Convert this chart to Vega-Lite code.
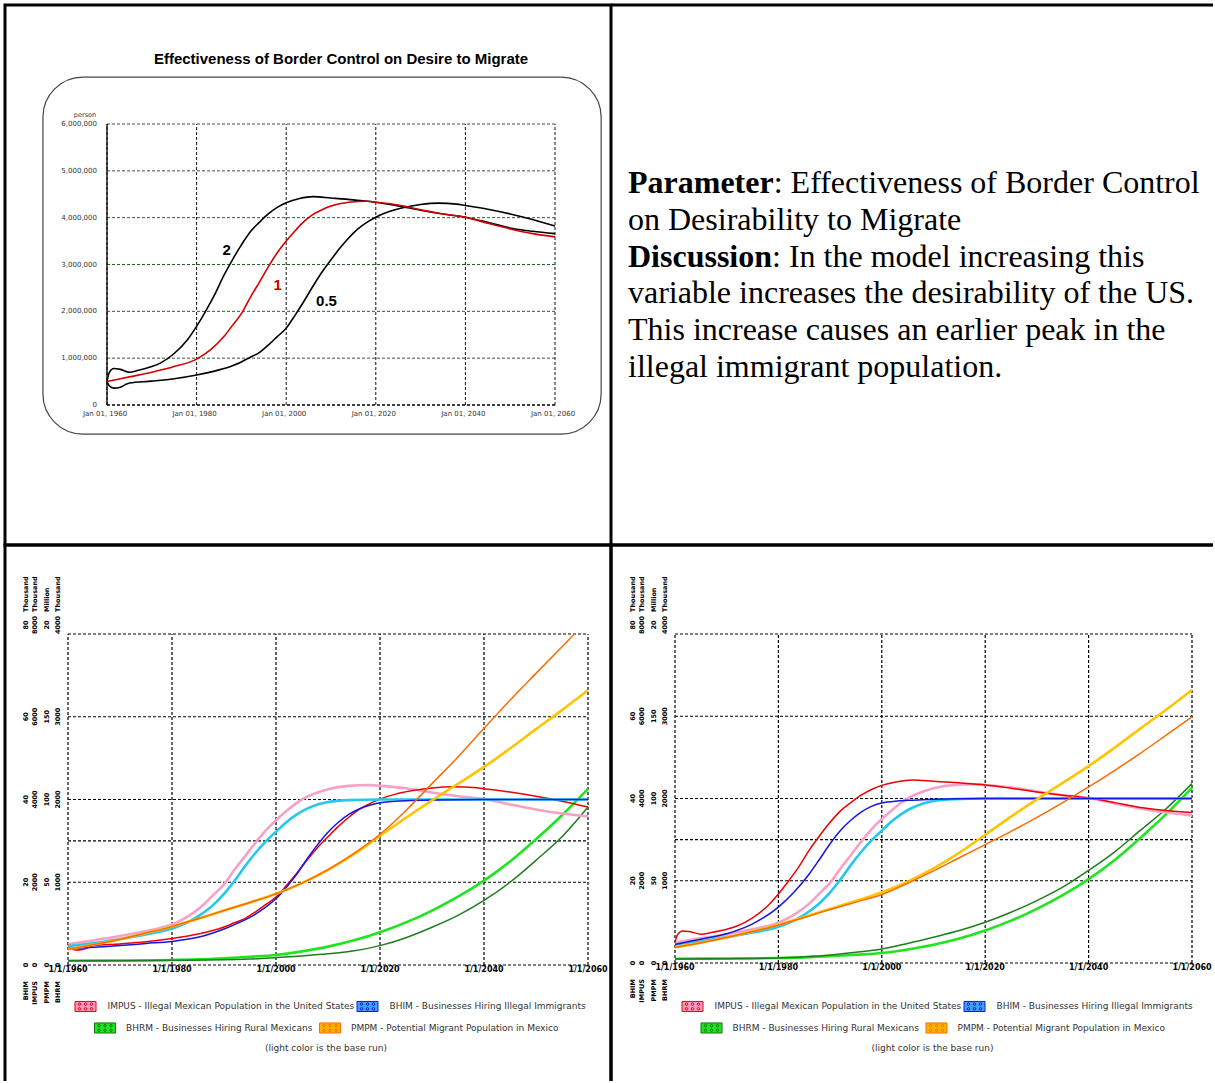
{
  "$schema": "https://vega.github.io/schema/vega-lite/v6.json",
  "background": "white",
  "padding": {"left": 3, "top": 3, "right": 0, "bottom": 0},
  "bounds": "flush",
  "spacing": 0,
  "columns": 2,
  "datasets": {
    "impus": [
      {"r":"1","year":1960,"v":500000},{"r":"1","year":1965,"v":600000},{"r":"1","year":1970,"v":700000},{"r":"1","year":1975,"v":820000},{"r":"1","year":1980,"v":980000},{"r":"1","year":1983,"v":1170000},{"r":"1","year":1986,"v":1450000},{"r":"1","year":1988,"v":1700000},{"r":"1","year":1990,"v":1950000},{"r":"1","year":1992,"v":2300000},{"r":"1","year":1994,"v":2620000},{"r":"1","year":1996,"v":2950000},{"r":"1","year":1998,"v":3250000},{"r":"1","year":2000,"v":3500000},{"r":"1","year":2002,"v":3720000},{"r":"1","year":2004,"v":3920000},{"r":"1","year":2006,"v":4070000},{"r":"1","year":2008,"v":4170000},{"r":"1","year":2010,"v":4250000},{"r":"1","year":2014,"v":4330000},{"r":"1","year":2018,"v":4350000},{"r":"1","year":2020,"v":4330000},{"r":"1","year":2025,"v":4270000},{"r":"1","year":2030,"v":4170000},{"r":"1","year":2035,"v":4080000},{"r":"1","year":2040,"v":4010000},{"r":"1","year":2045,"v":3880000},{"r":"1","year":2050,"v":3760000},{"r":"1","year":2055,"v":3660000},{"r":"1","year":2060,"v":3590000},
      {"r":"0.5","year":1960,"v":500000},{"r":"0.5","year":1960.5,"v":410000},{"r":"0.5","year":1961.5,"v":360000},{"r":"0.5","year":1963,"v":380000},{"r":"0.5","year":1964,"v":430000},{"r":"0.5","year":1965,"v":470000},{"r":"0.5","year":1970,"v":510000},{"r":"0.5","year":1975,"v":560000},{"r":"0.5","year":1980,"v":640000},{"r":"0.5","year":1985,"v":750000},{"r":"0.5","year":1988,"v":840000},{"r":"0.5","year":1990,"v":920000},{"r":"0.5","year":1992,"v":1020000},{"r":"0.5","year":1994,"v":1120000},{"r":"0.5","year":1996,"v":1280000},{"r":"0.5","year":1998,"v":1460000},{"r":"0.5","year":2000,"v":1640000},{"r":"0.5","year":2002,"v":1920000},{"r":"0.5","year":2004,"v":2220000},{"r":"0.5","year":2006,"v":2540000},{"r":"0.5","year":2008,"v":2840000},{"r":"0.5","year":2010,"v":3100000},{"r":"0.5","year":2012,"v":3350000},{"r":"0.5","year":2014,"v":3570000},{"r":"0.5","year":2016,"v":3760000},{"r":"0.5","year":2018,"v":3900000},{"r":"0.5","year":2020,"v":4010000},{"r":"0.5","year":2023,"v":4130000},{"r":"0.5","year":2026,"v":4210000},{"r":"0.5","year":2030,"v":4280000},{"r":"0.5","year":2034,"v":4310000},{"r":"0.5","year":2038,"v":4290000},{"r":"0.5","year":2040,"v":4260000},{"r":"0.5","year":2045,"v":4180000},{"r":"0.5","year":2050,"v":4080000},{"r":"0.5","year":2055,"v":3960000},{"r":"0.5","year":2060,"v":3820000},
      {"r":"2","year":1960,"v":500000},{"r":"2","year":1960.5,"v":690000},{"r":"2","year":1961.5,"v":780000},{"r":"2","year":1963,"v":760000},{"r":"2","year":1965,"v":700000},{"r":"2","year":1967,"v":740000},{"r":"2","year":1970,"v":820000},{"r":"2","year":1972,"v":900000},{"r":"2","year":1975,"v":1100000},{"r":"2","year":1978,"v":1400000},{"r":"2","year":1980,"v":1680000},{"r":"2","year":1982,"v":2000000},{"r":"2","year":1984,"v":2350000},{"r":"2","year":1986,"v":2750000},{"r":"2","year":1988,"v":3100000},{"r":"2","year":1990,"v":3420000},{"r":"2","year":1992,"v":3700000},{"r":"2","year":1994,"v":3900000},{"r":"2","year":1996,"v":4080000},{"r":"2","year":1998,"v":4220000},{"r":"2","year":2000,"v":4320000},{"r":"2","year":2003,"v":4410000},{"r":"2","year":2006,"v":4450000},{"r":"2","year":2010,"v":4420000},{"r":"2","year":2015,"v":4380000},{"r":"2","year":2020,"v":4330000},{"r":"2","year":2025,"v":4250000},{"r":"2","year":2030,"v":4160000},{"r":"2","year":2035,"v":4080000},{"r":"2","year":2040,"v":4010000},{"r":"2","year":2045,"v":3900000},{"r":"2","year":2050,"v":3780000},{"r":"2","year":2055,"v":3710000},{"r":"2","year":2060,"v":3660000}
    ],
    "bhim": [
      {"r":"1","year":1960,"v":4500},{"r":"1","year":1965,"v":5300},{"r":"1","year":1970,"v":6300},{"r":"1","year":1975,"v":7400},{"r":"1","year":1980,"v":8800},{"r":"1","year":1983,"v":10300},{"r":"1","year":1986,"v":12600},{"r":"1","year":1988,"v":14600},{"r":"1","year":1990,"v":17200},{"r":"1","year":1992,"v":20300},{"r":"1","year":1994,"v":23800},{"r":"1","year":1996,"v":27000},{"r":"1","year":1998,"v":29800},{"r":"1","year":2000,"v":32200},{"r":"1","year":2002,"v":34500},{"r":"1","year":2004,"v":36400},{"r":"1","year":2006,"v":37800},{"r":"1","year":2008,"v":38800},{"r":"1","year":2010,"v":39400},{"r":"1","year":2014,"v":39850},{"r":"1","year":2020,"v":40000},{"r":"1","year":2040,"v":40000},{"r":"1","year":2060,"v":40000},
      {"r":"0.5","year":1960,"v":3900},{"r":"0.5","year":1965,"v":4300},{"r":"0.5","year":1970,"v":4700},{"r":"0.5","year":1975,"v":5200},{"r":"0.5","year":1980,"v":5700},{"r":"0.5","year":1985,"v":6700},{"r":"0.5","year":1990,"v":8700},{"r":"0.5","year":1993,"v":10300},{"r":"0.5","year":1995,"v":11500},{"r":"0.5","year":1998,"v":14000},{"r":"0.5","year":2000,"v":16000},{"r":"0.5","year":2002,"v":18800},{"r":"0.5","year":2004,"v":22000},{"r":"0.5","year":2006,"v":25700},{"r":"0.5","year":2008,"v":29100},{"r":"0.5","year":2010,"v":32100},{"r":"0.5","year":2012,"v":34500},{"r":"0.5","year":2014,"v":36400},{"r":"0.5","year":2016,"v":37700},{"r":"0.5","year":2018,"v":38600},{"r":"0.5","year":2020,"v":39200},{"r":"0.5","year":2025,"v":39700},{"r":"0.5","year":2030,"v":39900},{"r":"0.5","year":2040,"v":40000},{"r":"0.5","year":2060,"v":40000},
      {"r":"2","year":1960,"v":4500},{"r":"2","year":1965,"v":5800},{"r":"2","year":1970,"v":7100},{"r":"2","year":1975,"v":9500},{"r":"2","year":1980,"v":13600},{"r":"2","year":1983,"v":17200},{"r":"2","year":1986,"v":21700},{"r":"2","year":1988,"v":25300},{"r":"2","year":1990,"v":29000},{"r":"2","year":1992,"v":32200},{"r":"2","year":1994,"v":34700},{"r":"2","year":1996,"v":36700},{"r":"2","year":1998,"v":38100},{"r":"2","year":2000,"v":38900},{"r":"2","year":2003,"v":39400},{"r":"2","year":2006,"v":39600},{"r":"2","year":2010,"v":39800},{"r":"2","year":2020,"v":40000},{"r":"2","year":2060,"v":40000}
    ],
    "bhrm": [
      {"r":"1","year":1960,"v":52000},{"r":"1","year":1970,"v":54000},{"r":"1","year":1980,"v":60000},{"r":"1","year":1985,"v":68000},{"r":"1","year":1990,"v":82000},{"r":"1","year":1995,"v":100000},{"r":"1","year":2000,"v":121000},{"r":"1","year":2005,"v":165000},{"r":"1","year":2010,"v":222000},{"r":"1","year":2015,"v":298000},{"r":"1","year":2020,"v":396000},{"r":"1","year":2025,"v":515000},{"r":"1","year":2030,"v":658000},{"r":"1","year":2035,"v":825000},{"r":"1","year":2040,"v":1020000},{"r":"1","year":2045,"v":1250000},{"r":"1","year":2050,"v":1520000},{"r":"1","year":2055,"v":1810000},{"r":"1","year":2060,"v":2130000},
      {"r":"0.5","year":1960,"v":50000},{"r":"0.5","year":1970,"v":52000},{"r":"0.5","year":1980,"v":56000},{"r":"0.5","year":1990,"v":62000},{"r":"0.5","year":1995,"v":72000},{"r":"0.5","year":2000,"v":90000},{"r":"0.5","year":2005,"v":110000},{"r":"0.5","year":2010,"v":135000},{"r":"0.5","year":2015,"v":172000},{"r":"0.5","year":2020,"v":234000},{"r":"0.5","year":2025,"v":330000},{"r":"0.5","year":2030,"v":456000},{"r":"0.5","year":2035,"v":600000},{"r":"0.5","year":2040,"v":780000},{"r":"0.5","year":2045,"v":1000000},{"r":"0.5","year":2050,"v":1265000},{"r":"0.5","year":2055,"v":1550000},{"r":"0.5","year":2060,"v":1910000},
      {"r":"2","year":1960,"v":49000},{"r":"2","year":1970,"v":53000},{"r":"2","year":1980,"v":61000},{"r":"2","year":1985,"v":75000},{"r":"2","year":1990,"v":97000},{"r":"2","year":1995,"v":130000},{"r":"2","year":2000,"v":171000},{"r":"2","year":2005,"v":238000},{"r":"2","year":2010,"v":313000},{"r":"2","year":2015,"v":394000},{"r":"2","year":2020,"v":495000},{"r":"2","year":2025,"v":617000},{"r":"2","year":2030,"v":759000},{"r":"2","year":2035,"v":922000},{"r":"2","year":2040,"v":1125000},{"r":"2","year":2045,"v":1348000},{"r":"2","year":2050,"v":1612000},{"r":"2","year":2055,"v":1876000},{"r":"2","year":2060,"v":2181000}
    ],
    "pmpm": [
      {"r":"1","year":1960,"v":9500000},{"r":"1","year":1965,"v":12400000},{"r":"1","year":1970,"v":15600000},{"r":"1","year":1975,"v":19300000},{"r":"1","year":1980,"v":23200000},{"r":"1","year":1985,"v":28000000},{"r":"1","year":1990,"v":32900000},{"r":"1","year":1995,"v":37800000},{"r":"1","year":2000,"v":43000000},{"r":"1","year":2005,"v":49500000},{"r":"1","year":2010,"v":57500000},{"r":"1","year":2015,"v":67000000},{"r":"1","year":2020,"v":78000000},{"r":"1","year":2025,"v":89000000},{"r":"1","year":2030,"v":99500000},{"r":"1","year":2035,"v":109500000},{"r":"1","year":2040,"v":119700000},{"r":"1","year":2045,"v":130800000},{"r":"1","year":2050,"v":142500000},{"r":"1","year":2055,"v":154000000},{"r":"1","year":2060,"v":166000000},
      {"r":"0.5","year":1960,"v":9500000},{"r":"0.5","year":1965,"v":12400000},{"r":"0.5","year":1970,"v":15600000},{"r":"0.5","year":1975,"v":19300000},{"r":"0.5","year":1980,"v":23200000},{"r":"0.5","year":1985,"v":28000000},{"r":"0.5","year":1990,"v":32900000},{"r":"0.5","year":1995,"v":37800000},{"r":"0.5","year":2000,"v":43000000},{"r":"0.5","year":2005,"v":49500000},{"r":"0.5","year":2010,"v":57600000},{"r":"0.5","year":2015,"v":67500000},{"r":"0.5","year":2020,"v":79000000},{"r":"0.5","year":2025,"v":93400000},{"r":"0.5","year":2030,"v":109600000},{"r":"0.5","year":2035,"v":125700000},{"r":"0.5","year":2040,"v":143000000},{"r":"0.5","year":2045,"v":160000000},{"r":"0.5","year":2050,"v":176200000},{"r":"0.5","year":2055,"v":192300000},{"r":"0.5","year":2057.4,"v":200000000},
      {"r":"2","year":1960,"v":9500000},{"r":"2","year":1965,"v":12300000},{"r":"2","year":1970,"v":15500000},{"r":"2","year":1975,"v":19100000},{"r":"2","year":1980,"v":23000000},{"r":"2","year":1985,"v":27700000},{"r":"2","year":1990,"v":32500000},{"r":"2","year":1995,"v":37000000},{"r":"2","year":2000,"v":41600000},{"r":"2","year":2005,"v":48500000},{"r":"2","year":2010,"v":56000000},{"r":"2","year":2015,"v":64000000},{"r":"2","year":2020,"v":72000000},{"r":"2","year":2025,"v":80000000},{"r":"2","year":2030,"v":88500000},{"r":"2","year":2035,"v":97500000},{"r":"2","year":2040,"v":107000000},{"r":"2","year":2045,"v":117000000},{"r":"2","year":2050,"v":127500000},{"r":"2","year":2055,"v":138500000},{"r":"2","year":2060,"v":149600000}
    ],
    "years": [
      {"year":1960,"v":0,"md":"1/1/1960","long":"Jan 01, 1960"},{"year":1980,"v":0,"md":"1/1/1980","long":"Jan 01, 1980"},{"year":2000,"v":0,"md":"1/1/2000","long":"Jan 01, 2000"},{"year":2020,"v":0,"md":"1/1/2020","long":"Jan 01, 2020"},{"year":2040,"v":0,"md":"1/1/2040","long":"Jan 01, 2040"},{"year":2060,"v":0,"md":"1/1/2060","long":"Jan 01, 2060"}
    ],
    "tlgrid": [
      {"dir":"v","year":1960,"year2":1960,"v":0,"v2":6000000},{"dir":"v","year":1980,"year2":1980,"v":0,"v2":6000000},{"dir":"v","year":2000,"year2":2000,"v":0,"v2":6000000},{"dir":"v","year":2020,"year2":2020,"v":0,"v2":6000000},{"dir":"v","year":2040,"year2":2040,"v":0,"v2":6000000},{"dir":"v","year":2060,"year2":2060,"v":0,"v2":6000000},
      {"dir":"h","year":1960,"year2":2060,"v":1000000,"v2":1000000},{"dir":"h","year":1960,"year2":2060,"v":2000000,"v2":2000000},{"dir":"h","year":1960,"year2":2060,"v":3000000,"v2":3000000},{"dir":"h","year":1960,"year2":2060,"v":4000000,"v2":4000000},{"dir":"h","year":1960,"year2":2060,"v":5000000,"v2":5000000},{"dir":"h","year":1960,"year2":2060,"v":6000000,"v2":6000000},
      {"dir":"axisY","year":1960,"year2":1960,"v":0,"v2":6000000},{"dir":"axisX","year":1960,"year2":2060,"v":0,"v2":0}
    ],
    "tlticks": [
      {"year":1960,"v":0},{"year":1960,"v":1000000},{"year":1960,"v":2000000},{"year":1960,"v":3000000},{"year":1960,"v":4000000},{"year":1960,"v":5000000},{"year":1960,"v":6000000}
    ],
    "bgrid": [
      {"year":1960,"year2":1960,"v":0,"v2":4000000},{"year":1980,"year2":1980,"v":0,"v2":4000000},{"year":2000,"year2":2000,"v":0,"v2":4000000},{"year":2020,"year2":2020,"v":0,"v2":4000000},{"year":2040,"year2":2040,"v":0,"v2":4000000},{"year":2060,"year2":2060,"v":0,"v2":4000000},
      {"year":1960,"year2":2060,"v":0,"v2":0},{"year":1960,"year2":2060,"v":1000000,"v2":1000000},{"year":1960,"year2":2060,"v":1500000,"v2":1500000},{"year":1960,"year2":2060,"v":2000000,"v2":2000000},{"year":1960,"year2":2060,"v":3000000,"v2":3000000},{"year":1960,"year2":2060,"v":4000000,"v2":4000000}
    ],
    "ylabels": [
      {"s":"BHIM","kind":"tick","year":1960,"v":0,"label":"0"},{"s":"BHIM","kind":"tick","year":1960,"v":20000,"label":"20"},{"s":"BHIM","kind":"tick","year":1960,"v":40000,"label":"40"},{"s":"BHIM","kind":"tick","year":1960,"v":60000,"label":"60"},{"s":"BHIM","kind":"top","year":1960,"v":80000,"label":"80"},{"s":"BHIM","kind":"unit","year":1960,"v":80000,"label":"Thousand"},{"s":"BHIM","kind":"name","year":1960,"v":0,"label":"BHIM"},
      {"s":"IMPUS","kind":"tick","year":1960,"v":0,"label":"0"},{"s":"IMPUS","kind":"tick","year":1960,"v":2000000,"label":"2000"},{"s":"IMPUS","kind":"tick","year":1960,"v":4000000,"label":"4000"},{"s":"IMPUS","kind":"tick","year":1960,"v":6000000,"label":"6000"},{"s":"IMPUS","kind":"top","year":1960,"v":8000000,"label":"8000"},{"s":"IMPUS","kind":"unit","year":1960,"v":8000000,"label":"Thousand"},{"s":"IMPUS","kind":"name","year":1960,"v":0,"label":"IMPUS"},
      {"s":"PMPM","kind":"tick","year":1960,"v":0,"label":"0"},{"s":"PMPM","kind":"tick","year":1960,"v":50000000,"label":"50"},{"s":"PMPM","kind":"tick","year":1960,"v":100000000,"label":"100"},{"s":"PMPM","kind":"tick","year":1960,"v":150000000,"label":"150"},{"s":"PMPM","kind":"top","year":1960,"v":200000000,"label":"20"},{"s":"PMPM","kind":"unit","year":1960,"v":200000000,"label":"Million"},{"s":"PMPM","kind":"name","year":1960,"v":0,"label":"PMPM"},
      {"s":"BHRM","kind":"tick","year":1960,"v":0,"label":"0"},{"s":"BHRM","kind":"tick","year":1960,"v":1000000,"label":"1000"},{"s":"BHRM","kind":"tick","year":1960,"v":2000000,"label":"2000"},{"s":"BHRM","kind":"tick","year":1960,"v":3000000,"label":"3000"},{"s":"BHRM","kind":"top","year":1960,"v":4000000,"label":"4000"},{"s":"BHRM","kind":"unit","year":1960,"v":4000000,"label":"Thousand"},{"s":"BHRM","kind":"name","year":1960,"v":0,"label":"BHRM"}
    ],
    "notes": [
      {"line":1,"part":"head","t":"Parameter"},
      {"line":1,"part":"rest","t":": Effectiveness of Border Control"},
      {"line":2,"part":"plain","t":"on Desirability to Migrate"},
      {"line":3,"part":"head","t":"Discussion"},
      {"line":3,"part":"rest","t":": In the model increasing this"},
      {"line":4,"part":"plain","t":"variable increases the desirability of the US."},
      {"line":5,"part":"plain","t":"This increase causes an earlier peak in the"},
      {"line":6,"part":"plain","t":"illegal immigrant population."}
    ],
    "legendTop": [{"entry":"IMPUS - Illegal Mexican Population in the United States"},{"entry":"BHIM - Businesses Hiring Illegal Immigrants"}],
    "legendBottom": [{"entry":"BHRM - Businesses Hiring Rural Mexicans"},{"entry":"PMPM - Potential Migrant Population in Mexico"}]
  },
  "concat": [
    {
      "width": 606,
      "height": 540,
      "view": {"stroke": "#000", "strokeWidth": 3},
      "title": {"text": "Effectiveness of Border Control on Desire to Migrate", "font": "Liberation Sans", "fontSize": 15, "fontWeight": "bold", "color": "#000", "anchor": "middle", "frame": "group", "dx": 33, "offset": -69, "baseline": "middle"},
      "layer": [
        {
          "data": {"values": [{"year": 1945.7, "year2": 2070.3, "v": -620000, "v2": 7000000}]},
          "mark": {"type": "rect", "cornerRadius": 40, "fill": "transparent", "stroke": "#444", "strokeWidth": 1.2},
          "encoding": {
            "x": {"field": "year", "type": "quantitative", "scale": {"domain": [1960, 2060], "range": [102, 550], "nice": false, "zero": false}, "axis": null},
            "x2": {"field": "year2"},
            "y": {"field": "v", "type": "quantitative", "scale": {"domain": [0, 6000000], "range": [400, 119], "nice": false, "zero": false}, "axis": null},
            "y2": {"field": "v2"}
          }
        },
        {
          "data": {"name": "tlgrid"},
          "transform": [{"filter": "datum.dir === 'v'"}],
          "mark": {"type": "rule", "color": "#111", "strokeWidth": 1, "strokeDash": [3, 2]},
          "encoding": {
            "x": {"field": "year", "type": "quantitative", "scale": {"domain": [1960, 2060], "range": [102, 550], "nice": false, "zero": false}, "axis": null},
            "x2": {"field": "year2"},
            "y": {"field": "v", "type": "quantitative", "scale": {"domain": [0, 6000000], "range": [400, 119], "nice": false, "zero": false}, "axis": null},
            "y2": {"field": "v2"}
          }
        },
        {
          "data": {"name": "tlgrid"},
          "transform": [{"filter": "datum.dir === 'h'"}],
          "mark": {"type": "rule", "color": "#2E5E2E", "strokeWidth": 1, "strokeDash": [3, 2]},
          "encoding": {
            "x": {"field": "year", "type": "quantitative", "scale": {"domain": [1960, 2060], "range": [102, 550], "nice": false, "zero": false}, "axis": null},
            "x2": {"field": "year2"},
            "y": {"field": "v", "type": "quantitative", "scale": {"domain": [0, 6000000], "range": [400, 119], "nice": false, "zero": false}, "axis": null},
            "y2": {"field": "v2"}
          }
        },
        {
          "data": {"name": "tlgrid"},
          "transform": [{"filter": "datum.dir === 'axisY'"}],
          "mark": {"type": "rule", "color": "#000", "strokeWidth": 1.3},
          "encoding": {
            "x": {"field": "year", "type": "quantitative", "scale": {"domain": [1960, 2060], "range": [102, 550], "nice": false, "zero": false}, "axis": null},
            "x2": {"field": "year2"},
            "y": {"field": "v", "type": "quantitative", "scale": {"domain": [0, 6000000], "range": [400, 119], "nice": false, "zero": false}, "axis": null},
            "y2": {"field": "v2"}
          }
        },
        {
          "data": {"name": "tlgrid"},
          "transform": [{"filter": "datum.dir === 'axisX'"}],
          "mark": {"type": "rule", "color": "#000", "strokeWidth": 1.6, "strokeDash": [3, 2]},
          "encoding": {
            "x": {"field": "year", "type": "quantitative", "scale": {"domain": [1960, 2060], "range": [102, 550], "nice": false, "zero": false}, "axis": null},
            "x2": {"field": "year2"},
            "y": {"field": "v", "type": "quantitative", "scale": {"domain": [0, 6000000], "range": [400, 119], "nice": false, "zero": false}, "axis": null},
            "y2": {"field": "v2"}
          }
        },
        {
          "data": {"name": "tlticks"},
          "mark": {"type": "text", "align": "right", "baseline": "middle", "dx": -10, "font": "DejaVu Sans", "fontSize": 7, "color": "#333"},
          "encoding": {
            "x": {"field": "year", "type": "quantitative", "scale": {"domain": [1960, 2060], "range": [102, 550], "nice": false, "zero": false}, "axis": null},
            "y": {"field": "v", "type": "quantitative", "scale": {"domain": [0, 6000000], "range": [400, 119], "nice": false, "zero": false}, "axis": null},
            "text": {"field": "v", "type": "quantitative", "format": ",d"}
          }
        },
        {
          "data": {"name": "years"},
          "mark": {"type": "text", "align": "center", "baseline": "top", "dx": -2, "dy": 5, "font": "DejaVu Sans", "fontSize": 7, "color": "#333"},
          "encoding": {
            "x": {"field": "year", "type": "quantitative", "scale": {"domain": [1960, 2060], "range": [102, 550], "nice": false, "zero": false}, "axis": null},
            "y": {"field": "v", "type": "quantitative", "scale": {"domain": [0, 6000000], "range": [400, 119], "nice": false, "zero": false}, "axis": null},
            "text": {"field": "long"}
          }
        },
        {
          "data": {"values": [{"year": 1960, "v": 6000000, "label": "person"}]},
          "mark": {"type": "text", "align": "center", "baseline": "middle", "dx": -22, "dy": -9, "font": "DejaVu Sans", "fontSize": 6.5, "color": "#333"},
          "encoding": {
            "x": {"field": "year", "type": "quantitative", "scale": {"domain": [1960, 2060], "range": [102, 550], "nice": false, "zero": false}, "axis": null},
            "y": {"field": "v", "type": "quantitative", "scale": {"domain": [0, 6000000], "range": [400, 119], "nice": false, "zero": false}, "axis": null},
            "text": {"field": "label"}
          }
        },
        {
          "data": {"name": "impus"},
          "transform": [{"filter": "datum.r !== '1'"}],
          "mark": {"type": "line", "color": "#000", "strokeWidth": 1.6, "interpolate": "monotone"},
          "encoding": {
            "x": {"field": "year", "type": "quantitative", "scale": {"domain": [1960, 2060], "range": [102, 550], "nice": false, "zero": false}, "axis": null},
            "y": {"field": "v", "type": "quantitative", "scale": {"domain": [0, 6000000], "range": [400, 119], "nice": false, "zero": false}, "axis": null},
            "detail": {"field": "r"}
          }
        },
        {
          "data": {"name": "impus"},
          "transform": [{"filter": "datum.r === '1'"}],
          "mark": {"type": "line", "color": "#D40000", "strokeWidth": 1.6, "interpolate": "monotone"},
          "encoding": {
            "x": {"field": "year", "type": "quantitative", "scale": {"domain": [1960, 2060], "range": [102, 550], "nice": false, "zero": false}, "axis": null},
            "y": {"field": "v", "type": "quantitative", "scale": {"domain": [0, 6000000], "range": [400, 119], "nice": false, "zero": false}, "axis": null}
          }
        },
        {
          "data": {"values": [{"r": "2", "year": 1986.7, "v": 3320000, "label": "2"}, {"r": "1", "year": 1998.1, "v": 2570000, "label": "1"}, {"r": "0.5", "year": 2009.0, "v": 2210000, "label": "0.5"}]},
          "mark": {"type": "text", "font": "Liberation Sans", "fontSize": 15, "fontWeight": "bold", "baseline": "middle", "align": "center"},
          "encoding": {
            "x": {"field": "year", "type": "quantitative", "scale": {"domain": [1960, 2060], "range": [102, 550], "nice": false, "zero": false}, "axis": null},
            "y": {"field": "v", "type": "quantitative", "scale": {"domain": [0, 6000000], "range": [400, 119], "nice": false, "zero": false}, "axis": null},
            "text": {"field": "label"},
            "color": {"field": "r", "type": "nominal", "scale": {"domain": ["0.5", "1", "2"], "range": ["#000", "#D40000", "#000"]}, "legend": null}
          }
        }
      ]
    },
    {
      "width": 602,
      "height": 540,
      "view": {"stroke": "#000", "strokeWidth": 3, "strokeDash": [602, 540]},
      "data": {"name": "notes"},
      "layer": [
        {"transform": [{"filter": "datum.part === 'head'"}], "mark": {"type": "text", "align": "left", "baseline": "middle", "font": "Liberation Serif", "fontSize": 32, "fontWeight": "bold", "color": "#000"},
          "encoding": {"x": {"datum": 0, "type": "quantitative", "scale": {"domain": [0, 1], "range": [17, 600]}, "axis": null}, "y": {"field": "line", "type": "quantitative", "scale": {"domain": [1, 6], "range": [178, 362], "nice": false, "zero": false}, "axis": null}, "text": {"field": "t"}}},
        {"transform": [{"filter": "datum.part === 'rest' && datum.line === 1"}], "mark": {"type": "text", "align": "left", "baseline": "middle", "dx": 145.7, "font": "Liberation Serif", "fontSize": 32, "color": "#000"},
          "encoding": {"x": {"datum": 0, "type": "quantitative", "scale": {"domain": [0, 1], "range": [17, 600]}, "axis": null}, "y": {"field": "line", "type": "quantitative", "scale": {"domain": [1, 6], "range": [178, 362], "nice": false, "zero": false}, "axis": null}, "text": {"field": "t"}}},
        {"transform": [{"filter": "datum.part === 'rest' && datum.line === 3"}], "mark": {"type": "text", "align": "left", "baseline": "middle", "dx": 144, "font": "Liberation Serif", "fontSize": 32, "color": "#000"},
          "encoding": {"x": {"datum": 0, "type": "quantitative", "scale": {"domain": [0, 1], "range": [17, 600]}, "axis": null}, "y": {"field": "line", "type": "quantitative", "scale": {"domain": [1, 6], "range": [178, 362], "nice": false, "zero": false}, "axis": null}, "text": {"field": "t"}}},
        {"transform": [{"filter": "datum.part === 'plain'"}], "mark": {"type": "text", "align": "left", "baseline": "middle", "font": "Liberation Serif", "fontSize": 32, "color": "#000"},
          "encoding": {"x": {"datum": 0, "type": "quantitative", "scale": {"domain": [0, 1], "range": [17, 600]}, "axis": null}, "y": {"field": "line", "type": "quantitative", "scale": {"domain": [1, 6], "range": [178, 362], "nice": false, "zero": false}, "axis": null}, "text": {"field": "t"}}}
      ]
    },
    {
      "width": 606,
      "height": 536,
      "view": {"stroke": "#000", "strokeWidth": 3, "strokeDash": [1142, 606, 537]},
      "layer": [
        {"data": {"name": "bgrid"}, "mark": {"type": "rule", "color": "#000", "strokeWidth": 1.2, "strokeDash": [3, 2]},
          "encoding": {"x": {"field": "year", "type": "quantitative", "scale": {"domain": [1960, 2060], "range": [63, 583], "nice": false, "zero": false}, "axis": null}, "x2": {"field": "year2"}, "y": {"field": "v", "type": "quantitative", "scale": {"domain": [0, 4000000], "range": [420, 89], "nice": false, "zero": false}, "axis": null}, "y2": {"field": "v2"}}},
        {"data": {"name": "years"}, "mark": {"type": "text", "align": "center", "baseline": "top", "dy": 1, "font": "DejaVu Sans", "fontSize": 8, "fontWeight": "bold", "color": "#000"},
          "encoding": {"x": {"field": "year", "type": "quantitative", "scale": {"domain": [1960, 2060], "range": [63, 583], "nice": false, "zero": false}, "axis": null}, "y": {"field": "v", "type": "quantitative", "scale": {"domain": [0, 4000000], "range": [420, 89], "nice": false, "zero": false}, "axis": null}, "text": {"field": "md"}}},
        {"data": {"name": "bhrm"}, "transform": [{"filter": "datum.r === '1'"}], "mark": {"type": "line", "color": "#1EE61E", "strokeWidth": 2.6, "interpolate": "monotone"},
          "encoding": {"x": {"field": "year", "type": "quantitative", "scale": {"domain": [1960, 2060], "range": [63, 583], "nice": false, "zero": false}, "axis": null}, "y": {"field": "v", "type": "quantitative", "scale": {"domain": [0, 4000000], "range": [420, 89], "nice": false, "zero": false}, "axis": null}}},
        {"data": {"name": "bhrm"}, "transform": [{"filter": "datum.r === '0.5'"}], "mark": {"type": "line", "color": "#1E7D1E", "strokeWidth": 1.5, "interpolate": "monotone"},
          "encoding": {"x": {"field": "year", "type": "quantitative", "scale": {"domain": [1960, 2060], "range": [63, 583], "nice": false, "zero": false}, "axis": null}, "y": {"field": "v", "type": "quantitative", "scale": {"domain": [0, 4000000], "range": [420, 89], "nice": false, "zero": false}, "axis": null}}},
        {"data": {"name": "impus"}, "transform": [{"filter": "datum.r === '1'"}], "mark": {"type": "line", "color": "#F8A0C8", "strokeWidth": 2.6, "interpolate": "monotone"},
          "encoding": {"x": {"field": "year", "type": "quantitative", "scale": {"domain": [1960, 2060], "range": [63, 583], "nice": false, "zero": false}, "axis": null}, "y": {"field": "v", "type": "quantitative", "scale": {"domain": [0, 8000000], "range": [420, 89], "nice": false, "zero": false}, "axis": null}}},
        {"data": {"name": "impus"}, "transform": [{"filter": "datum.r === '0.5'"}], "mark": {"type": "line", "color": "#F00000", "strokeWidth": 1.5, "interpolate": "monotone"},
          "encoding": {"x": {"field": "year", "type": "quantitative", "scale": {"domain": [1960, 2060], "range": [63, 583], "nice": false, "zero": false}, "axis": null}, "y": {"field": "v", "type": "quantitative", "scale": {"domain": [0, 8000000], "range": [420, 89], "nice": false, "zero": false}, "axis": null}}},
        {"data": {"name": "bhim"}, "transform": [{"filter": "datum.r === '1'"}], "mark": {"type": "line", "color": "#22C8F0", "strokeWidth": 2.6, "interpolate": "monotone"},
          "encoding": {"x": {"field": "year", "type": "quantitative", "scale": {"domain": [1960, 2060], "range": [63, 583], "nice": false, "zero": false}, "axis": null}, "y": {"field": "v", "type": "quantitative", "scale": {"domain": [0, 80000], "range": [420, 89], "nice": false, "zero": false}, "axis": null}}},
        {"data": {"name": "bhim"}, "transform": [{"filter": "datum.r === '0.5'"}], "mark": {"type": "line", "color": "#1414E6", "strokeWidth": 1.5, "interpolate": "monotone"},
          "encoding": {"x": {"field": "year", "type": "quantitative", "scale": {"domain": [1960, 2060], "range": [63, 583], "nice": false, "zero": false}, "axis": null}, "y": {"field": "v", "type": "quantitative", "scale": {"domain": [0, 80000], "range": [420, 89], "nice": false, "zero": false}, "axis": null}}},
        {"data": {"name": "pmpm"}, "transform": [{"filter": "datum.r === '1'"}], "mark": {"type": "line", "color": "#FFC400", "strokeWidth": 2.6, "interpolate": "monotone"},
          "encoding": {"x": {"field": "year", "type": "quantitative", "scale": {"domain": [1960, 2060], "range": [63, 583], "nice": false, "zero": false}, "axis": null}, "y": {"field": "v", "type": "quantitative", "scale": {"domain": [0, 200000000], "range": [420, 89], "nice": false, "zero": false}, "axis": null}}},
        {"data": {"name": "pmpm"}, "transform": [{"filter": "datum.r === '0.5'"}], "mark": {"type": "line", "color": "#FF6A00", "strokeWidth": 1.5, "interpolate": "monotone"},
          "encoding": {"x": {"field": "year", "type": "quantitative", "scale": {"domain": [1960, 2060], "range": [63, 583], "nice": false, "zero": false}, "axis": null}, "y": {"field": "v", "type": "quantitative", "scale": {"domain": [0, 200000000], "range": [420, 89], "nice": false, "zero": false}, "axis": null}}},
        {"data": {"name": "ylabels"}, "transform": [{"filter": "datum.s === 'BHIM' && datum.kind === 'tick'"}], "mark": {"type": "text", "angle": 270, "align": "center", "baseline": "middle", "dy": -42, "font": "DejaVu Sans", "fontSize": 6.5, "fontWeight": "bold", "color": "#000"},
          "encoding": {"x": {"field": "year", "type": "quantitative", "scale": {"domain": [1960, 2060], "range": [63, 583], "nice": false, "zero": false}, "axis": null}, "y": {"field": "v", "type": "quantitative", "scale": {"domain": [0, 80000], "range": [420, 89], "nice": false, "zero": false}, "axis": null}, "text": {"field": "label"}}},
        {"data": {"name": "ylabels"}, "transform": [{"filter": "datum.s === 'BHIM' && datum.kind === 'top'"}], "mark": {"type": "text", "angle": 270, "align": "center", "baseline": "middle", "dx": 9, "dy": -42, "font": "DejaVu Sans", "fontSize": 6.5, "fontWeight": "bold", "color": "#000"},
          "encoding": {"x": {"field": "year", "type": "quantitative", "scale": {"domain": [1960, 2060], "range": [63, 583], "nice": false, "zero": false}, "axis": null}, "y": {"field": "v", "type": "quantitative", "scale": {"domain": [0, 80000], "range": [420, 89], "nice": false, "zero": false}, "axis": null}, "text": {"field": "label"}}},
        {"data": {"name": "ylabels"}, "transform": [{"filter": "datum.s === 'BHIM' && datum.kind === 'unit'"}], "mark": {"type": "text", "angle": 270, "align": "left", "baseline": "middle", "dx": 22, "dy": -42, "font": "DejaVu Sans", "fontSize": 6.5, "fontWeight": "bold", "color": "#000"},
          "encoding": {"x": {"field": "year", "type": "quantitative", "scale": {"domain": [1960, 2060], "range": [63, 583], "nice": false, "zero": false}, "axis": null}, "y": {"field": "v", "type": "quantitative", "scale": {"domain": [0, 80000], "range": [420, 89], "nice": false, "zero": false}, "axis": null}, "text": {"field": "label"}}},
        {"data": {"name": "ylabels"}, "transform": [{"filter": "datum.s === 'BHIM' && datum.kind === 'name'"}], "mark": {"type": "text", "angle": 270, "align": "right", "baseline": "middle", "dx": -16, "dy": -42, "font": "DejaVu Sans", "fontSize": 6.5, "fontWeight": "bold", "color": "#000"},
          "encoding": {"x": {"field": "year", "type": "quantitative", "scale": {"domain": [1960, 2060], "range": [63, 583], "nice": false, "zero": false}, "axis": null}, "y": {"field": "v", "type": "quantitative", "scale": {"domain": [0, 80000], "range": [420, 89], "nice": false, "zero": false}, "axis": null}, "text": {"field": "label"}}},
        {"data": {"name": "ylabels"}, "transform": [{"filter": "datum.s === 'IMPUS' && datum.kind === 'tick'"}], "mark": {"type": "text", "angle": 270, "align": "center", "baseline": "middle", "dy": -33, "font": "DejaVu Sans", "fontSize": 6.5, "fontWeight": "bold", "color": "#000"},
          "encoding": {"x": {"field": "year", "type": "quantitative", "scale": {"domain": [1960, 2060], "range": [63, 583], "nice": false, "zero": false}, "axis": null}, "y": {"field": "v", "type": "quantitative", "scale": {"domain": [0, 8000000], "range": [420, 89], "nice": false, "zero": false}, "axis": null}, "text": {"field": "label"}}},
        {"data": {"name": "ylabels"}, "transform": [{"filter": "datum.s === 'IMPUS' && datum.kind === 'top'"}], "mark": {"type": "text", "angle": 270, "align": "center", "baseline": "middle", "dx": 9, "dy": -33, "font": "DejaVu Sans", "fontSize": 6.5, "fontWeight": "bold", "color": "#000"},
          "encoding": {"x": {"field": "year", "type": "quantitative", "scale": {"domain": [1960, 2060], "range": [63, 583], "nice": false, "zero": false}, "axis": null}, "y": {"field": "v", "type": "quantitative", "scale": {"domain": [0, 8000000], "range": [420, 89], "nice": false, "zero": false}, "axis": null}, "text": {"field": "label"}}},
        {"data": {"name": "ylabels"}, "transform": [{"filter": "datum.s === 'IMPUS' && datum.kind === 'unit'"}], "mark": {"type": "text", "angle": 270, "align": "left", "baseline": "middle", "dx": 22, "dy": -33, "font": "DejaVu Sans", "fontSize": 6.5, "fontWeight": "bold", "color": "#000"},
          "encoding": {"x": {"field": "year", "type": "quantitative", "scale": {"domain": [1960, 2060], "range": [63, 583], "nice": false, "zero": false}, "axis": null}, "y": {"field": "v", "type": "quantitative", "scale": {"domain": [0, 8000000], "range": [420, 89], "nice": false, "zero": false}, "axis": null}, "text": {"field": "label"}}},
        {"data": {"name": "ylabels"}, "transform": [{"filter": "datum.s === 'IMPUS' && datum.kind === 'name'"}], "mark": {"type": "text", "angle": 270, "align": "right", "baseline": "middle", "dx": -16, "dy": -33, "font": "DejaVu Sans", "fontSize": 6.5, "fontWeight": "bold", "color": "#000"},
          "encoding": {"x": {"field": "year", "type": "quantitative", "scale": {"domain": [1960, 2060], "range": [63, 583], "nice": false, "zero": false}, "axis": null}, "y": {"field": "v", "type": "quantitative", "scale": {"domain": [0, 8000000], "range": [420, 89], "nice": false, "zero": false}, "axis": null}, "text": {"field": "label"}}},
        {"data": {"name": "ylabels"}, "transform": [{"filter": "datum.s === 'PMPM' && datum.kind === 'tick'"}], "mark": {"type": "text", "angle": 270, "align": "center", "baseline": "middle", "dy": -21, "font": "DejaVu Sans", "fontSize": 6.5, "fontWeight": "bold", "color": "#000"},
          "encoding": {"x": {"field": "year", "type": "quantitative", "scale": {"domain": [1960, 2060], "range": [63, 583], "nice": false, "zero": false}, "axis": null}, "y": {"field": "v", "type": "quantitative", "scale": {"domain": [0, 200000000], "range": [420, 89], "nice": false, "zero": false}, "axis": null}, "text": {"field": "label"}}},
        {"data": {"name": "ylabels"}, "transform": [{"filter": "datum.s === 'PMPM' && datum.kind === 'top'"}], "mark": {"type": "text", "angle": 270, "align": "center", "baseline": "middle", "dx": 9, "dy": -21, "font": "DejaVu Sans", "fontSize": 6.5, "fontWeight": "bold", "color": "#000"},
          "encoding": {"x": {"field": "year", "type": "quantitative", "scale": {"domain": [1960, 2060], "range": [63, 583], "nice": false, "zero": false}, "axis": null}, "y": {"field": "v", "type": "quantitative", "scale": {"domain": [0, 200000000], "range": [420, 89], "nice": false, "zero": false}, "axis": null}, "text": {"field": "label"}}},
        {"data": {"name": "ylabels"}, "transform": [{"filter": "datum.s === 'PMPM' && datum.kind === 'unit'"}], "mark": {"type": "text", "angle": 270, "align": "left", "baseline": "middle", "dx": 22, "dy": -21, "font": "DejaVu Sans", "fontSize": 6.5, "fontWeight": "bold", "color": "#000"},
          "encoding": {"x": {"field": "year", "type": "quantitative", "scale": {"domain": [1960, 2060], "range": [63, 583], "nice": false, "zero": false}, "axis": null}, "y": {"field": "v", "type": "quantitative", "scale": {"domain": [0, 200000000], "range": [420, 89], "nice": false, "zero": false}, "axis": null}, "text": {"field": "label"}}},
        {"data": {"name": "ylabels"}, "transform": [{"filter": "datum.s === 'PMPM' && datum.kind === 'name'"}], "mark": {"type": "text", "angle": 270, "align": "right", "baseline": "middle", "dx": -16, "dy": -21, "font": "DejaVu Sans", "fontSize": 6.5, "fontWeight": "bold", "color": "#000"},
          "encoding": {"x": {"field": "year", "type": "quantitative", "scale": {"domain": [1960, 2060], "range": [63, 583], "nice": false, "zero": false}, "axis": null}, "y": {"field": "v", "type": "quantitative", "scale": {"domain": [0, 200000000], "range": [420, 89], "nice": false, "zero": false}, "axis": null}, "text": {"field": "label"}}},
        {"data": {"name": "ylabels"}, "transform": [{"filter": "datum.s === 'BHRM' && datum.kind === 'tick'"}], "mark": {"type": "text", "angle": 270, "align": "center", "baseline": "middle", "dy": -10, "font": "DejaVu Sans", "fontSize": 6.5, "fontWeight": "bold", "color": "#000"},
          "encoding": {"x": {"field": "year", "type": "quantitative", "scale": {"domain": [1960, 2060], "range": [63, 583], "nice": false, "zero": false}, "axis": null}, "y": {"field": "v", "type": "quantitative", "scale": {"domain": [0, 4000000], "range": [420, 89], "nice": false, "zero": false}, "axis": null}, "text": {"field": "label"}}},
        {"data": {"name": "ylabels"}, "transform": [{"filter": "datum.s === 'BHRM' && datum.kind === 'top'"}], "mark": {"type": "text", "angle": 270, "align": "center", "baseline": "middle", "dx": 9, "dy": -10, "font": "DejaVu Sans", "fontSize": 6.5, "fontWeight": "bold", "color": "#000"},
          "encoding": {"x": {"field": "year", "type": "quantitative", "scale": {"domain": [1960, 2060], "range": [63, 583], "nice": false, "zero": false}, "axis": null}, "y": {"field": "v", "type": "quantitative", "scale": {"domain": [0, 4000000], "range": [420, 89], "nice": false, "zero": false}, "axis": null}, "text": {"field": "label"}}},
        {"data": {"name": "ylabels"}, "transform": [{"filter": "datum.s === 'BHRM' && datum.kind === 'unit'"}], "mark": {"type": "text", "angle": 270, "align": "left", "baseline": "middle", "dx": 22, "dy": -10, "font": "DejaVu Sans", "fontSize": 6.5, "fontWeight": "bold", "color": "#000"},
          "encoding": {"x": {"field": "year", "type": "quantitative", "scale": {"domain": [1960, 2060], "range": [63, 583], "nice": false, "zero": false}, "axis": null}, "y": {"field": "v", "type": "quantitative", "scale": {"domain": [0, 4000000], "range": [420, 89], "nice": false, "zero": false}, "axis": null}, "text": {"field": "label"}}},
        {"data": {"name": "ylabels"}, "transform": [{"filter": "datum.s === 'BHRM' && datum.kind === 'name'"}], "mark": {"type": "text", "angle": 270, "align": "right", "baseline": "middle", "dx": -16, "dy": -10, "font": "DejaVu Sans", "fontSize": 6.5, "fontWeight": "bold", "color": "#000"},
          "encoding": {"x": {"field": "year", "type": "quantitative", "scale": {"domain": [1960, 2060], "range": [63, 583], "nice": false, "zero": false}, "axis": null}, "y": {"field": "v", "type": "quantitative", "scale": {"domain": [0, 4000000], "range": [420, 89], "nice": false, "zero": false}, "axis": null}, "text": {"field": "label"}}},
        {
          "data": {"name": "legendTop"},
          "mark": {"type": "point", "opacity": 0, "filled": true, "size": 441, "strokeWidth": 1, "shape": "M-1,-0.48H1V0.48H-1Z M-0.69,-0.22A0.12,0.12,0,1,1,-0.45,-0.22A0.12,0.12,0,1,1,-0.69,-0.22Z M-0.12,-0.22A0.12,0.12,0,1,1,0.12,-0.22A0.12,0.12,0,1,1,-0.12,-0.22Z M0.45,-0.22A0.12,0.12,0,1,1,0.69,-0.22A0.12,0.12,0,1,1,0.45,-0.22Z M-0.69,0.22A0.12,0.12,0,1,1,-0.45,0.22A0.12,0.12,0,1,1,-0.69,0.22Z M-0.12,0.22A0.12,0.12,0,1,1,0.12,0.22A0.12,0.12,0,1,1,-0.12,0.22Z M0.45,0.22A0.12,0.12,0,1,1,0.69,0.22A0.12,0.12,0,1,1,0.45,0.22Z"},
          "encoding": {
            "fill": {"field": "entry", "type": "nominal", "scale": {"domain": ["IMPUS - Illegal Mexican Population in the United States", "BHIM - Businesses Hiring Illegal Immigrants"], "range": ["#FF99C0", "#3FA0FF"]},
              "legend": {"orient": "none", "legendX": 69.5, "legendY": 450, "direction": "horizontal", "title": null, "padding": 0, "symbolType": "M-1,-0.48H1V0.48H-1Z M-0.69,-0.22A0.12,0.12,0,1,1,-0.45,-0.22A0.12,0.12,0,1,1,-0.69,-0.22Z M-0.12,-0.22A0.12,0.12,0,1,1,0.12,-0.22A0.12,0.12,0,1,1,-0.12,-0.22Z M0.45,-0.22A0.12,0.12,0,1,1,0.69,-0.22A0.12,0.12,0,1,1,0.45,-0.22Z M-0.69,0.22A0.12,0.12,0,1,1,-0.45,0.22A0.12,0.12,0,1,1,-0.69,0.22Z M-0.12,0.22A0.12,0.12,0,1,1,0.12,0.22A0.12,0.12,0,1,1,-0.12,0.22Z M0.45,0.22A0.12,0.12,0,1,1,0.69,0.22A0.12,0.12,0,1,1,0.45,0.22Z", "symbolSize": 441, "symbolStrokeWidth": 1, "symbolOpacity": 1, "labelFont": "DejaVu Sans", "labelFontSize": 9, "labelColor": "#333", "labelOffset": 11, "labelLimit": 400, "columnPadding": 0}},
            "stroke": {"field": "entry", "type": "nominal", "scale": {"domain": ["IMPUS - Illegal Mexican Population in the United States", "BHIM - Businesses Hiring Illegal Immigrants"], "range": ["#F00000", "#1414E6"]},
              "legend": {"orient": "none", "legendX": 69.5, "legendY": 450, "direction": "horizontal", "title": null, "padding": 0, "symbolType": "M-1,-0.48H1V0.48H-1Z M-0.69,-0.22A0.12,0.12,0,1,1,-0.45,-0.22A0.12,0.12,0,1,1,-0.69,-0.22Z M-0.12,-0.22A0.12,0.12,0,1,1,0.12,-0.22A0.12,0.12,0,1,1,-0.12,-0.22Z M0.45,-0.22A0.12,0.12,0,1,1,0.69,-0.22A0.12,0.12,0,1,1,0.45,-0.22Z M-0.69,0.22A0.12,0.12,0,1,1,-0.45,0.22A0.12,0.12,0,1,1,-0.69,0.22Z M-0.12,0.22A0.12,0.12,0,1,1,0.12,0.22A0.12,0.12,0,1,1,-0.12,0.22Z M0.45,0.22A0.12,0.12,0,1,1,0.69,0.22A0.12,0.12,0,1,1,0.45,0.22Z", "symbolSize": 441, "symbolStrokeWidth": 1, "symbolOpacity": 1, "labelFont": "DejaVu Sans", "labelFontSize": 9, "labelColor": "#333", "labelOffset": 11, "labelLimit": 400, "columnPadding": 0}}
          }
        },
        {
          "data": {"name": "legendBottom"},
          "mark": {"type": "point", "opacity": 0, "filled": true, "size": 441, "strokeWidth": 1, "shape": "M-1,-0.48H1V0.48H-1Z M-0.69,-0.22A0.12,0.12,0,1,1,-0.45,-0.22A0.12,0.12,0,1,1,-0.69,-0.22Z M-0.12,-0.22A0.12,0.12,0,1,1,0.12,-0.22A0.12,0.12,0,1,1,-0.12,-0.22Z M0.45,-0.22A0.12,0.12,0,1,1,0.69,-0.22A0.12,0.12,0,1,1,0.45,-0.22Z M-0.69,0.22A0.12,0.12,0,1,1,-0.45,0.22A0.12,0.12,0,1,1,-0.69,0.22Z M-0.12,0.22A0.12,0.12,0,1,1,0.12,0.22A0.12,0.12,0,1,1,-0.12,0.22Z M0.45,0.22A0.12,0.12,0,1,1,0.69,0.22A0.12,0.12,0,1,1,0.45,0.22Z"},
          "encoding": {
            "fill": {"field": "entry", "type": "nominal", "scale": {"domain": ["BHRM - Businesses Hiring Rural Mexicans", "PMPM - Potential Migrant Population in Mexico"], "range": ["#1EE61E", "#FFB300"]},
              "legend": {"orient": "none", "legendX": 89, "legendY": 471.5, "direction": "horizontal", "title": "(light color is the base run)", "titleOrient": "bottom", "titleAnchor": "middle", "titleFont": "DejaVu Sans", "titleFontSize": 9, "titleFontWeight": "normal", "titleColor": "#333", "titlePadding": 8, "padding": 0, "symbolType": "M-1,-0.48H1V0.48H-1Z M-0.69,-0.22A0.12,0.12,0,1,1,-0.45,-0.22A0.12,0.12,0,1,1,-0.69,-0.22Z M-0.12,-0.22A0.12,0.12,0,1,1,0.12,-0.22A0.12,0.12,0,1,1,-0.12,-0.22Z M0.45,-0.22A0.12,0.12,0,1,1,0.69,-0.22A0.12,0.12,0,1,1,0.45,-0.22Z M-0.69,0.22A0.12,0.12,0,1,1,-0.45,0.22A0.12,0.12,0,1,1,-0.69,0.22Z M-0.12,0.22A0.12,0.12,0,1,1,0.12,0.22A0.12,0.12,0,1,1,-0.12,0.22Z M0.45,0.22A0.12,0.12,0,1,1,0.69,0.22A0.12,0.12,0,1,1,0.45,0.22Z", "symbolSize": 441, "symbolStrokeWidth": 1, "symbolOpacity": 1, "labelFont": "DejaVu Sans", "labelFontSize": 9, "labelColor": "#333", "labelOffset": 10, "labelLimit": 400, "columnPadding": 4}},
            "stroke": {"field": "entry", "type": "nominal", "scale": {"domain": ["BHRM - Businesses Hiring Rural Mexicans", "PMPM - Potential Migrant Population in Mexico"], "range": ["#137013", "#FF6A00"]},
              "legend": {"orient": "none", "legendX": 89, "legendY": 471.5, "direction": "horizontal", "title": "(light color is the base run)", "titleOrient": "bottom", "titleAnchor": "middle", "titleFont": "DejaVu Sans", "titleFontSize": 9, "titleFontWeight": "normal", "titleColor": "#333", "titlePadding": 8, "padding": 0, "symbolType": "M-1,-0.48H1V0.48H-1Z M-0.69,-0.22A0.12,0.12,0,1,1,-0.45,-0.22A0.12,0.12,0,1,1,-0.69,-0.22Z M-0.12,-0.22A0.12,0.12,0,1,1,0.12,-0.22A0.12,0.12,0,1,1,-0.12,-0.22Z M0.45,-0.22A0.12,0.12,0,1,1,0.69,-0.22A0.12,0.12,0,1,1,0.45,-0.22Z M-0.69,0.22A0.12,0.12,0,1,1,-0.45,0.22A0.12,0.12,0,1,1,-0.69,0.22Z M-0.12,0.22A0.12,0.12,0,1,1,0.12,0.22A0.12,0.12,0,1,1,-0.12,0.22Z M0.45,0.22A0.12,0.12,0,1,1,0.69,0.22A0.12,0.12,0,1,1,0.45,0.22Z", "symbolSize": 441, "symbolStrokeWidth": 1, "symbolOpacity": 1, "labelFont": "DejaVu Sans", "labelFontSize": 9, "labelColor": "#333", "labelOffset": 10, "labelLimit": 400, "columnPadding": 4}}
          }
        }
      ],
      "resolve": {"scale": {"y": "independent", "fill": "independent", "stroke": "independent"}, "legend": {"fill": "independent", "stroke": "independent"}}
    },
    {
      "width": 602,
      "height": 536,
      "view": {"stroke": "#000", "strokeWidth": 3, "strokeDash": [602, 1138, 537]},
      "layer": [
        {"data": {"name": "bgrid"}, "mark": {"type": "rule", "color": "#000", "strokeWidth": 1.2, "strokeDash": [3, 2]},
          "encoding": {"x": {"field": "year", "type": "quantitative", "scale": {"domain": [1960, 2060], "range": [64, 581], "nice": false, "zero": false}, "axis": null}, "x2": {"field": "year2"}, "y": {"field": "v", "type": "quantitative", "scale": {"domain": [0, 4000000], "range": [418, 89], "nice": false, "zero": false}, "axis": null}, "y2": {"field": "v2"}}},
        {"data": {"name": "years"}, "mark": {"type": "text", "align": "center", "baseline": "top", "dy": 1, "font": "DejaVu Sans", "fontSize": 8, "fontWeight": "bold", "color": "#000"},
          "encoding": {"x": {"field": "year", "type": "quantitative", "scale": {"domain": [1960, 2060], "range": [64, 581], "nice": false, "zero": false}, "axis": null}, "y": {"field": "v", "type": "quantitative", "scale": {"domain": [0, 4000000], "range": [418, 89], "nice": false, "zero": false}, "axis": null}, "text": {"field": "md"}}},
        {"data": {"name": "bhrm"}, "transform": [{"filter": "datum.r === '1'"}], "mark": {"type": "line", "color": "#1EE61E", "strokeWidth": 2.6, "interpolate": "monotone"},
          "encoding": {"x": {"field": "year", "type": "quantitative", "scale": {"domain": [1960, 2060], "range": [64, 581], "nice": false, "zero": false}, "axis": null}, "y": {"field": "v", "type": "quantitative", "scale": {"domain": [0, 4000000], "range": [418, 89], "nice": false, "zero": false}, "axis": null}}},
        {"data": {"name": "bhrm"}, "transform": [{"filter": "datum.r === '2'"}], "mark": {"type": "line", "color": "#1E7D1E", "strokeWidth": 1.5, "interpolate": "monotone"},
          "encoding": {"x": {"field": "year", "type": "quantitative", "scale": {"domain": [1960, 2060], "range": [64, 581], "nice": false, "zero": false}, "axis": null}, "y": {"field": "v", "type": "quantitative", "scale": {"domain": [0, 4000000], "range": [418, 89], "nice": false, "zero": false}, "axis": null}}},
        {"data": {"name": "impus"}, "transform": [{"filter": "datum.r === '1'"}], "mark": {"type": "line", "color": "#F8A0C8", "strokeWidth": 2.6, "interpolate": "monotone"},
          "encoding": {"x": {"field": "year", "type": "quantitative", "scale": {"domain": [1960, 2060], "range": [64, 581], "nice": false, "zero": false}, "axis": null}, "y": {"field": "v", "type": "quantitative", "scale": {"domain": [0, 8000000], "range": [418, 89], "nice": false, "zero": false}, "axis": null}}},
        {"data": {"name": "impus"}, "transform": [{"filter": "datum.r === '2'"}], "mark": {"type": "line", "color": "#F00000", "strokeWidth": 1.5, "interpolate": "monotone"},
          "encoding": {"x": {"field": "year", "type": "quantitative", "scale": {"domain": [1960, 2060], "range": [64, 581], "nice": false, "zero": false}, "axis": null}, "y": {"field": "v", "type": "quantitative", "scale": {"domain": [0, 8000000], "range": [418, 89], "nice": false, "zero": false}, "axis": null}}},
        {"data": {"name": "bhim"}, "transform": [{"filter": "datum.r === '1'"}], "mark": {"type": "line", "color": "#22C8F0", "strokeWidth": 2.6, "interpolate": "monotone"},
          "encoding": {"x": {"field": "year", "type": "quantitative", "scale": {"domain": [1960, 2060], "range": [64, 581], "nice": false, "zero": false}, "axis": null}, "y": {"field": "v", "type": "quantitative", "scale": {"domain": [0, 80000], "range": [418, 89], "nice": false, "zero": false}, "axis": null}}},
        {"data": {"name": "bhim"}, "transform": [{"filter": "datum.r === '2'"}], "mark": {"type": "line", "color": "#1414E6", "strokeWidth": 1.5, "interpolate": "monotone"},
          "encoding": {"x": {"field": "year", "type": "quantitative", "scale": {"domain": [1960, 2060], "range": [64, 581], "nice": false, "zero": false}, "axis": null}, "y": {"field": "v", "type": "quantitative", "scale": {"domain": [0, 80000], "range": [418, 89], "nice": false, "zero": false}, "axis": null}}},
        {"data": {"name": "pmpm"}, "transform": [{"filter": "datum.r === '1'"}], "mark": {"type": "line", "color": "#FFC400", "strokeWidth": 2.6, "interpolate": "monotone"},
          "encoding": {"x": {"field": "year", "type": "quantitative", "scale": {"domain": [1960, 2060], "range": [64, 581], "nice": false, "zero": false}, "axis": null}, "y": {"field": "v", "type": "quantitative", "scale": {"domain": [0, 200000000], "range": [418, 89], "nice": false, "zero": false}, "axis": null}}},
        {"data": {"name": "pmpm"}, "transform": [{"filter": "datum.r === '2'"}], "mark": {"type": "line", "color": "#FF6A00", "strokeWidth": 1.5, "interpolate": "monotone"},
          "encoding": {"x": {"field": "year", "type": "quantitative", "scale": {"domain": [1960, 2060], "range": [64, 581], "nice": false, "zero": false}, "axis": null}, "y": {"field": "v", "type": "quantitative", "scale": {"domain": [0, 200000000], "range": [418, 89], "nice": false, "zero": false}, "axis": null}}},
        {"data": {"name": "ylabels"}, "transform": [{"filter": "datum.s === 'BHIM' && datum.kind === 'tick'"}], "mark": {"type": "text", "angle": 270, "align": "center", "baseline": "middle", "dy": -42, "font": "DejaVu Sans", "fontSize": 6.5, "fontWeight": "bold", "color": "#000"},
          "encoding": {"x": {"field": "year", "type": "quantitative", "scale": {"domain": [1960, 2060], "range": [64, 581], "nice": false, "zero": false}, "axis": null}, "y": {"field": "v", "type": "quantitative", "scale": {"domain": [0, 80000], "range": [418, 89], "nice": false, "zero": false}, "axis": null}, "text": {"field": "label"}}},
        {"data": {"name": "ylabels"}, "transform": [{"filter": "datum.s === 'BHIM' && datum.kind === 'top'"}], "mark": {"type": "text", "angle": 270, "align": "center", "baseline": "middle", "dx": 9, "dy": -42, "font": "DejaVu Sans", "fontSize": 6.5, "fontWeight": "bold", "color": "#000"},
          "encoding": {"x": {"field": "year", "type": "quantitative", "scale": {"domain": [1960, 2060], "range": [64, 581], "nice": false, "zero": false}, "axis": null}, "y": {"field": "v", "type": "quantitative", "scale": {"domain": [0, 80000], "range": [418, 89], "nice": false, "zero": false}, "axis": null}, "text": {"field": "label"}}},
        {"data": {"name": "ylabels"}, "transform": [{"filter": "datum.s === 'BHIM' && datum.kind === 'unit'"}], "mark": {"type": "text", "angle": 270, "align": "left", "baseline": "middle", "dx": 22, "dy": -42, "font": "DejaVu Sans", "fontSize": 6.5, "fontWeight": "bold", "color": "#000"},
          "encoding": {"x": {"field": "year", "type": "quantitative", "scale": {"domain": [1960, 2060], "range": [64, 581], "nice": false, "zero": false}, "axis": null}, "y": {"field": "v", "type": "quantitative", "scale": {"domain": [0, 80000], "range": [418, 89], "nice": false, "zero": false}, "axis": null}, "text": {"field": "label"}}},
        {"data": {"name": "ylabels"}, "transform": [{"filter": "datum.s === 'BHIM' && datum.kind === 'name'"}], "mark": {"type": "text", "angle": 270, "align": "right", "baseline": "middle", "dx": -16, "dy": -42, "font": "DejaVu Sans", "fontSize": 6.5, "fontWeight": "bold", "color": "#000"},
          "encoding": {"x": {"field": "year", "type": "quantitative", "scale": {"domain": [1960, 2060], "range": [64, 581], "nice": false, "zero": false}, "axis": null}, "y": {"field": "v", "type": "quantitative", "scale": {"domain": [0, 80000], "range": [418, 89], "nice": false, "zero": false}, "axis": null}, "text": {"field": "label"}}},
        {"data": {"name": "ylabels"}, "transform": [{"filter": "datum.s === 'IMPUS' && datum.kind === 'tick'"}], "mark": {"type": "text", "angle": 270, "align": "center", "baseline": "middle", "dy": -33, "font": "DejaVu Sans", "fontSize": 6.5, "fontWeight": "bold", "color": "#000"},
          "encoding": {"x": {"field": "year", "type": "quantitative", "scale": {"domain": [1960, 2060], "range": [64, 581], "nice": false, "zero": false}, "axis": null}, "y": {"field": "v", "type": "quantitative", "scale": {"domain": [0, 8000000], "range": [418, 89], "nice": false, "zero": false}, "axis": null}, "text": {"field": "label"}}},
        {"data": {"name": "ylabels"}, "transform": [{"filter": "datum.s === 'IMPUS' && datum.kind === 'top'"}], "mark": {"type": "text", "angle": 270, "align": "center", "baseline": "middle", "dx": 9, "dy": -33, "font": "DejaVu Sans", "fontSize": 6.5, "fontWeight": "bold", "color": "#000"},
          "encoding": {"x": {"field": "year", "type": "quantitative", "scale": {"domain": [1960, 2060], "range": [64, 581], "nice": false, "zero": false}, "axis": null}, "y": {"field": "v", "type": "quantitative", "scale": {"domain": [0, 8000000], "range": [418, 89], "nice": false, "zero": false}, "axis": null}, "text": {"field": "label"}}},
        {"data": {"name": "ylabels"}, "transform": [{"filter": "datum.s === 'IMPUS' && datum.kind === 'unit'"}], "mark": {"type": "text", "angle": 270, "align": "left", "baseline": "middle", "dx": 22, "dy": -33, "font": "DejaVu Sans", "fontSize": 6.5, "fontWeight": "bold", "color": "#000"},
          "encoding": {"x": {"field": "year", "type": "quantitative", "scale": {"domain": [1960, 2060], "range": [64, 581], "nice": false, "zero": false}, "axis": null}, "y": {"field": "v", "type": "quantitative", "scale": {"domain": [0, 8000000], "range": [418, 89], "nice": false, "zero": false}, "axis": null}, "text": {"field": "label"}}},
        {"data": {"name": "ylabels"}, "transform": [{"filter": "datum.s === 'IMPUS' && datum.kind === 'name'"}], "mark": {"type": "text", "angle": 270, "align": "right", "baseline": "middle", "dx": -16, "dy": -33, "font": "DejaVu Sans", "fontSize": 6.5, "fontWeight": "bold", "color": "#000"},
          "encoding": {"x": {"field": "year", "type": "quantitative", "scale": {"domain": [1960, 2060], "range": [64, 581], "nice": false, "zero": false}, "axis": null}, "y": {"field": "v", "type": "quantitative", "scale": {"domain": [0, 8000000], "range": [418, 89], "nice": false, "zero": false}, "axis": null}, "text": {"field": "label"}}},
        {"data": {"name": "ylabels"}, "transform": [{"filter": "datum.s === 'PMPM' && datum.kind === 'tick'"}], "mark": {"type": "text", "angle": 270, "align": "center", "baseline": "middle", "dy": -21, "font": "DejaVu Sans", "fontSize": 6.5, "fontWeight": "bold", "color": "#000"},
          "encoding": {"x": {"field": "year", "type": "quantitative", "scale": {"domain": [1960, 2060], "range": [64, 581], "nice": false, "zero": false}, "axis": null}, "y": {"field": "v", "type": "quantitative", "scale": {"domain": [0, 200000000], "range": [418, 89], "nice": false, "zero": false}, "axis": null}, "text": {"field": "label"}}},
        {"data": {"name": "ylabels"}, "transform": [{"filter": "datum.s === 'PMPM' && datum.kind === 'top'"}], "mark": {"type": "text", "angle": 270, "align": "center", "baseline": "middle", "dx": 9, "dy": -21, "font": "DejaVu Sans", "fontSize": 6.5, "fontWeight": "bold", "color": "#000"},
          "encoding": {"x": {"field": "year", "type": "quantitative", "scale": {"domain": [1960, 2060], "range": [64, 581], "nice": false, "zero": false}, "axis": null}, "y": {"field": "v", "type": "quantitative", "scale": {"domain": [0, 200000000], "range": [418, 89], "nice": false, "zero": false}, "axis": null}, "text": {"field": "label"}}},
        {"data": {"name": "ylabels"}, "transform": [{"filter": "datum.s === 'PMPM' && datum.kind === 'unit'"}], "mark": {"type": "text", "angle": 270, "align": "left", "baseline": "middle", "dx": 22, "dy": -21, "font": "DejaVu Sans", "fontSize": 6.5, "fontWeight": "bold", "color": "#000"},
          "encoding": {"x": {"field": "year", "type": "quantitative", "scale": {"domain": [1960, 2060], "range": [64, 581], "nice": false, "zero": false}, "axis": null}, "y": {"field": "v", "type": "quantitative", "scale": {"domain": [0, 200000000], "range": [418, 89], "nice": false, "zero": false}, "axis": null}, "text": {"field": "label"}}},
        {"data": {"name": "ylabels"}, "transform": [{"filter": "datum.s === 'PMPM' && datum.kind === 'name'"}], "mark": {"type": "text", "angle": 270, "align": "right", "baseline": "middle", "dx": -16, "dy": -21, "font": "DejaVu Sans", "fontSize": 6.5, "fontWeight": "bold", "color": "#000"},
          "encoding": {"x": {"field": "year", "type": "quantitative", "scale": {"domain": [1960, 2060], "range": [64, 581], "nice": false, "zero": false}, "axis": null}, "y": {"field": "v", "type": "quantitative", "scale": {"domain": [0, 200000000], "range": [418, 89], "nice": false, "zero": false}, "axis": null}, "text": {"field": "label"}}},
        {"data": {"name": "ylabels"}, "transform": [{"filter": "datum.s === 'BHRM' && datum.kind === 'tick'"}], "mark": {"type": "text", "angle": 270, "align": "center", "baseline": "middle", "dy": -10, "font": "DejaVu Sans", "fontSize": 6.5, "fontWeight": "bold", "color": "#000"},
          "encoding": {"x": {"field": "year", "type": "quantitative", "scale": {"domain": [1960, 2060], "range": [64, 581], "nice": false, "zero": false}, "axis": null}, "y": {"field": "v", "type": "quantitative", "scale": {"domain": [0, 4000000], "range": [418, 89], "nice": false, "zero": false}, "axis": null}, "text": {"field": "label"}}},
        {"data": {"name": "ylabels"}, "transform": [{"filter": "datum.s === 'BHRM' && datum.kind === 'top'"}], "mark": {"type": "text", "angle": 270, "align": "center", "baseline": "middle", "dx": 9, "dy": -10, "font": "DejaVu Sans", "fontSize": 6.5, "fontWeight": "bold", "color": "#000"},
          "encoding": {"x": {"field": "year", "type": "quantitative", "scale": {"domain": [1960, 2060], "range": [64, 581], "nice": false, "zero": false}, "axis": null}, "y": {"field": "v", "type": "quantitative", "scale": {"domain": [0, 4000000], "range": [418, 89], "nice": false, "zero": false}, "axis": null}, "text": {"field": "label"}}},
        {"data": {"name": "ylabels"}, "transform": [{"filter": "datum.s === 'BHRM' && datum.kind === 'unit'"}], "mark": {"type": "text", "angle": 270, "align": "left", "baseline": "middle", "dx": 22, "dy": -10, "font": "DejaVu Sans", "fontSize": 6.5, "fontWeight": "bold", "color": "#000"},
          "encoding": {"x": {"field": "year", "type": "quantitative", "scale": {"domain": [1960, 2060], "range": [64, 581], "nice": false, "zero": false}, "axis": null}, "y": {"field": "v", "type": "quantitative", "scale": {"domain": [0, 4000000], "range": [418, 89], "nice": false, "zero": false}, "axis": null}, "text": {"field": "label"}}},
        {"data": {"name": "ylabels"}, "transform": [{"filter": "datum.s === 'BHRM' && datum.kind === 'name'"}], "mark": {"type": "text", "angle": 270, "align": "right", "baseline": "middle", "dx": -16, "dy": -10, "font": "DejaVu Sans", "fontSize": 6.5, "fontWeight": "bold", "color": "#000"},
          "encoding": {"x": {"field": "year", "type": "quantitative", "scale": {"domain": [1960, 2060], "range": [64, 581], "nice": false, "zero": false}, "axis": null}, "y": {"field": "v", "type": "quantitative", "scale": {"domain": [0, 4000000], "range": [418, 89], "nice": false, "zero": false}, "axis": null}, "text": {"field": "label"}}},
        {
          "data": {"name": "legendTop"},
          "mark": {"type": "point", "opacity": 0, "filled": true, "size": 441, "strokeWidth": 1, "shape": "M-1,-0.48H1V0.48H-1Z M-0.69,-0.22A0.12,0.12,0,1,1,-0.45,-0.22A0.12,0.12,0,1,1,-0.69,-0.22Z M-0.12,-0.22A0.12,0.12,0,1,1,0.12,-0.22A0.12,0.12,0,1,1,-0.12,-0.22Z M0.45,-0.22A0.12,0.12,0,1,1,0.69,-0.22A0.12,0.12,0,1,1,0.45,-0.22Z M-0.69,0.22A0.12,0.12,0,1,1,-0.45,0.22A0.12,0.12,0,1,1,-0.69,0.22Z M-0.12,0.22A0.12,0.12,0,1,1,0.12,0.22A0.12,0.12,0,1,1,-0.12,0.22Z M0.45,0.22A0.12,0.12,0,1,1,0.69,0.22A0.12,0.12,0,1,1,0.45,0.22Z"},
          "encoding": {
            "fill": {"field": "entry", "type": "nominal", "scale": {"domain": ["IMPUS - Illegal Mexican Population in the United States", "BHIM - Businesses Hiring Illegal Immigrants"], "range": ["#FF99C0", "#3FA0FF"]},
              "legend": {"orient": "none", "legendX": 70.5, "legendY": 450, "direction": "horizontal", "title": null, "padding": 0, "symbolType": "M-1,-0.48H1V0.48H-1Z M-0.69,-0.22A0.12,0.12,0,1,1,-0.45,-0.22A0.12,0.12,0,1,1,-0.69,-0.22Z M-0.12,-0.22A0.12,0.12,0,1,1,0.12,-0.22A0.12,0.12,0,1,1,-0.12,-0.22Z M0.45,-0.22A0.12,0.12,0,1,1,0.69,-0.22A0.12,0.12,0,1,1,0.45,-0.22Z M-0.69,0.22A0.12,0.12,0,1,1,-0.45,0.22A0.12,0.12,0,1,1,-0.69,0.22Z M-0.12,0.22A0.12,0.12,0,1,1,0.12,0.22A0.12,0.12,0,1,1,-0.12,0.22Z M0.45,0.22A0.12,0.12,0,1,1,0.69,0.22A0.12,0.12,0,1,1,0.45,0.22Z", "symbolSize": 441, "symbolStrokeWidth": 1, "symbolOpacity": 1, "labelFont": "DejaVu Sans", "labelFontSize": 9, "labelColor": "#333", "labelOffset": 11, "labelLimit": 400, "columnPadding": 0}},
            "stroke": {"field": "entry", "type": "nominal", "scale": {"domain": ["IMPUS - Illegal Mexican Population in the United States", "BHIM - Businesses Hiring Illegal Immigrants"], "range": ["#F00000", "#1414E6"]},
              "legend": {"orient": "none", "legendX": 70.5, "legendY": 450, "direction": "horizontal", "title": null, "padding": 0, "symbolType": "M-1,-0.48H1V0.48H-1Z M-0.69,-0.22A0.12,0.12,0,1,1,-0.45,-0.22A0.12,0.12,0,1,1,-0.69,-0.22Z M-0.12,-0.22A0.12,0.12,0,1,1,0.12,-0.22A0.12,0.12,0,1,1,-0.12,-0.22Z M0.45,-0.22A0.12,0.12,0,1,1,0.69,-0.22A0.12,0.12,0,1,1,0.45,-0.22Z M-0.69,0.22A0.12,0.12,0,1,1,-0.45,0.22A0.12,0.12,0,1,1,-0.69,0.22Z M-0.12,0.22A0.12,0.12,0,1,1,0.12,0.22A0.12,0.12,0,1,1,-0.12,0.22Z M0.45,0.22A0.12,0.12,0,1,1,0.69,0.22A0.12,0.12,0,1,1,0.45,0.22Z", "symbolSize": 441, "symbolStrokeWidth": 1, "symbolOpacity": 1, "labelFont": "DejaVu Sans", "labelFontSize": 9, "labelColor": "#333", "labelOffset": 11, "labelLimit": 400, "columnPadding": 0}}
          }
        },
        {
          "data": {"name": "legendBottom"},
          "mark": {"type": "point", "opacity": 0, "filled": true, "size": 441, "strokeWidth": 1, "shape": "M-1,-0.48H1V0.48H-1Z M-0.69,-0.22A0.12,0.12,0,1,1,-0.45,-0.22A0.12,0.12,0,1,1,-0.69,-0.22Z M-0.12,-0.22A0.12,0.12,0,1,1,0.12,-0.22A0.12,0.12,0,1,1,-0.12,-0.22Z M0.45,-0.22A0.12,0.12,0,1,1,0.69,-0.22A0.12,0.12,0,1,1,0.45,-0.22Z M-0.69,0.22A0.12,0.12,0,1,1,-0.45,0.22A0.12,0.12,0,1,1,-0.69,0.22Z M-0.12,0.22A0.12,0.12,0,1,1,0.12,0.22A0.12,0.12,0,1,1,-0.12,0.22Z M0.45,0.22A0.12,0.12,0,1,1,0.69,0.22A0.12,0.12,0,1,1,0.45,0.22Z"},
          "encoding": {
            "fill": {"field": "entry", "type": "nominal", "scale": {"domain": ["BHRM - Businesses Hiring Rural Mexicans", "PMPM - Potential Migrant Population in Mexico"], "range": ["#1EE61E", "#FFB300"]},
              "legend": {"orient": "none", "legendX": 89.5, "legendY": 471.5, "direction": "horizontal", "title": "(light color is the base run)", "titleOrient": "bottom", "titleAnchor": "middle", "titleFont": "DejaVu Sans", "titleFontSize": 9, "titleFontWeight": "normal", "titleColor": "#333", "titlePadding": 8, "padding": 0, "symbolType": "M-1,-0.48H1V0.48H-1Z M-0.69,-0.22A0.12,0.12,0,1,1,-0.45,-0.22A0.12,0.12,0,1,1,-0.69,-0.22Z M-0.12,-0.22A0.12,0.12,0,1,1,0.12,-0.22A0.12,0.12,0,1,1,-0.12,-0.22Z M0.45,-0.22A0.12,0.12,0,1,1,0.69,-0.22A0.12,0.12,0,1,1,0.45,-0.22Z M-0.69,0.22A0.12,0.12,0,1,1,-0.45,0.22A0.12,0.12,0,1,1,-0.69,0.22Z M-0.12,0.22A0.12,0.12,0,1,1,0.12,0.22A0.12,0.12,0,1,1,-0.12,0.22Z M0.45,0.22A0.12,0.12,0,1,1,0.69,0.22A0.12,0.12,0,1,1,0.45,0.22Z", "symbolSize": 441, "symbolStrokeWidth": 1, "symbolOpacity": 1, "labelFont": "DejaVu Sans", "labelFontSize": 9, "labelColor": "#333", "labelOffset": 10, "labelLimit": 400, "columnPadding": 4}},
            "stroke": {"field": "entry", "type": "nominal", "scale": {"domain": ["BHRM - Businesses Hiring Rural Mexicans", "PMPM - Potential Migrant Population in Mexico"], "range": ["#137013", "#FF6A00"]},
              "legend": {"orient": "none", "legendX": 89.5, "legendY": 471.5, "direction": "horizontal", "title": "(light color is the base run)", "titleOrient": "bottom", "titleAnchor": "middle", "titleFont": "DejaVu Sans", "titleFontSize": 9, "titleFontWeight": "normal", "titleColor": "#333", "titlePadding": 8, "padding": 0, "symbolType": "M-1,-0.48H1V0.48H-1Z M-0.69,-0.22A0.12,0.12,0,1,1,-0.45,-0.22A0.12,0.12,0,1,1,-0.69,-0.22Z M-0.12,-0.22A0.12,0.12,0,1,1,0.12,-0.22A0.12,0.12,0,1,1,-0.12,-0.22Z M0.45,-0.22A0.12,0.12,0,1,1,0.69,-0.22A0.12,0.12,0,1,1,0.45,-0.22Z M-0.69,0.22A0.12,0.12,0,1,1,-0.45,0.22A0.12,0.12,0,1,1,-0.69,0.22Z M-0.12,0.22A0.12,0.12,0,1,1,0.12,0.22A0.12,0.12,0,1,1,-0.12,0.22Z M0.45,0.22A0.12,0.12,0,1,1,0.69,0.22A0.12,0.12,0,1,1,0.45,0.22Z", "symbolSize": 441, "symbolStrokeWidth": 1, "symbolOpacity": 1, "labelFont": "DejaVu Sans", "labelFontSize": 9, "labelColor": "#333", "labelOffset": 10, "labelLimit": 400, "columnPadding": 4}}
          }
        }
      ],
      "resolve": {"scale": {"y": "independent", "fill": "independent", "stroke": "independent"}, "legend": {"fill": "independent", "stroke": "independent"}}
    }
  ]
}
